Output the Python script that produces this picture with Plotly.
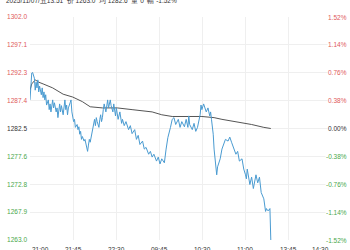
import plotly.graph_objects as go

# ---- data ----
minute_idx = [0,1,2,3,5,6,7,8,9,10,11,13,14,15,16,17,18,19,21,22,23,24,25,26,27,28,30,31,32,33,34,35,36,38,39,40,41,42,43,44,46,47,48,49,50,51,52,54,55,56,57,58,59,60,62,63,64,65,66,67,68,69,71,72,73,74,75,76,77,79,80,81,82,83,84,85,87,88,89,90,91,92,93,95,96,97,98,99,100,101,103,104,105,106,108,110,113,115,117,120,122,124,126,129,131,133,136,138,140,142,145,147,149,151,154,156,158,161,163,165,167,170,172,174,177,179,181,182,183,186,188,190,192,195,196,197,199,202,204,206,207,208,210,211,212,213,214,215,218,220,222,224,227,229,231,233,236,238,240,243,245,247,248,249,252,254,256,259,261,263,265,268,269,270,271,272,274,275,276]
price = [1287.5,1290.1,1292.2,1292.3,1291.3,1289.2,1290.6,1289.6,1291.0,1288.9,1289.9,1288.4,1289.6,1287.9,1288.9,1287.5,1288.4,1286.6,1287.5,1285.8,1286.8,1285.4,1286.5,1287.5,1286.1,1287.0,1285.4,1286.1,1284.4,1285.8,1286.8,1285.4,1286.5,1284.9,1286.8,1287.5,1285.8,1286.6,1284.9,1286.1,1287.0,1287.5,1285.4,1284.4,1283.7,1284.1,1282.7,1283.2,1282.3,1282.8,1281.5,1282.0,1280.6,1281.1,1280.3,1280.6,1279.7,1278.9,1278.5,1279.6,1280.6,1280.1,1281.5,1282.3,1283.2,1284.1,1283.0,1284.4,1283.7,1282.7,1284.1,1284.9,1283.7,1284.4,1285.8,1286.8,1285.4,1286.5,1287.5,1286.1,1287.0,1287.5,1286.5,1285.4,1286.8,1285.8,1284.7,1286.1,1285.1,1284.1,1285.4,1284.4,1283.4,1284.1,1283.0,1283.7,1282.3,1283.0,1281.6,1282.3,1280.6,1281.3,1279.7,1280.3,1278.9,1279.2,1278.0,1278.5,1277.5,1278.0,1276.8,1277.5,1276.3,1277.2,1276.5,1278.9,1280.9,1282.7,1284.1,1284.4,1283.2,1284.1,1282.7,1283.7,1282.8,1284.1,1282.7,1284.7,1283.2,1282.3,1283.4,1282.0,1282.7,1284.9,1286.6,1285.8,1286.8,1285.4,1286.1,1284.7,1285.4,1284.1,1281.5,1278.9,1277.2,1275.4,1274.4,1275.8,1277.2,1278.9,1279.7,1280.6,1280.3,1281.0,1280.1,1279.2,1278.0,1278.5,1276.8,1277.2,1275.4,1274.4,1273.7,1275.4,1272.7,1274.0,1272.0,1274.4,1273.0,1274.0,1271.3,1270.2,1268.5,1268.0,1268.5,1268.2,1268.2,1268.5,1263.0]

avg_idx = [0,2,6,10,15,26,38,49,60,69,83,100,117,140,151,163,197,211,220,243,254,268,276]
avg_price = [1289.2,1290.3,1291.0,1290.6,1290.3,1289.6,1288.5,1288.0,1287.2,1286.3,1286.1,1286.1,1285.8,1285.4,1284.9,1284.6,1284.6,1284.4,1284.1,1283.5,1283.2,1282.7,1282.5]

prev_close = 1282.5
price_ticks = [1263.0, 1267.875, 1272.75, 1277.625, 1282.5, 1287.375, 1292.25, 1297.125, 1302.0]
price_labels = ["1263.0", "1267.9", "1272.8", "1277.6", "1282.5", "1287.4", "1292.3", "1297.1", "1302.0"]
pct_labels = ["-1.52%", "-1.14%", "-0.76%", "-0.38%", "0.00%", "0.38%", "0.76%", "1.14%", "1.52%"]
time_labels = ["21:00", "21:45", "22:30", "09:45", "10:30", "11:00", "13:45", "14:30"]
session_minutes = 345
header = "2025/11/07/五13:51  价 1263.0  均 1282.6  量 0  幅 -1.52%"

RED = "#e05a5a"
GREEN = "#4aa84a"
DARK = "#333333"

def col(v):
    if v > prev_close + 1e-9:
        return RED
    if v < prev_close - 1e-9:
        return GREEN
    return DARK

fig = go.Figure()
fig.add_trace(go.Scatter(x=avg_idx, y=avg_price, mode="lines",
                         line=dict(color="#555555", width=1), hoverinfo="skip"))
fig.add_trace(go.Scatter(x=minute_idx, y=price, mode="lines",
                         line=dict(color="#4a9bd1", width=1), hoverinfo="skip"))

# previous close dashed line
fig.add_shape(type="line", xref="paper", yref="y", x0=0, x1=1, y0=prev_close, y1=prev_close,
              line=dict(color="#c8c8c8", width=1, dash="dash"), layer="below")

n_div = len(time_labels) - 1
grid_vals = [i * session_minutes / n_div for i in range(n_div + 1)]

ticktext = [f'<span style="color:{col(v)}">{t}</span>' for v, t in zip(price_ticks, price_labels)]

FONT = "Liberation Sans, Arial, sans-serif"
fig.update_layout(
    width=350, height=250,
    margin=dict(l=28, r=19, t=17, b=7),
    paper_bgcolor="white", plot_bgcolor="white",
    showlegend=False,
    font=dict(family=FONT, size=6.5, color=DARK),
    xaxis=dict(range=[0, session_minutes], tickvals=grid_vals, showticklabels=False,
               showgrid=True, gridcolor="#efefef", gridwidth=1, zeroline=False,
               showline=False, ticks="", fixedrange=True),
    yaxis=dict(range=[price_ticks[0], price_ticks[-1]], tickvals=price_ticks, ticktext=ticktext,
               showgrid=True, gridcolor="#efefef", gridwidth=1, zeroline=False,
               showline=False, ticks="", ticklabelstandoff=2, fixedrange=True,
               tickfont=dict(size=6.5)),
)

# right-hand percentage labels
for v, t in zip(price_ticks, pct_labels):
    fig.add_annotation(x=1.056, xref="paper", y=v, yref="y", text=t, showarrow=False,
                       xanchor="right", yanchor="middle", bgcolor="white", borderpad=0,
                       font=dict(size=6.5, color=col(v)))

# time labels (bottom, partly cut as in reference)
for i, (gv, t) in enumerate(zip(grid_vals, time_labels)):
    anchor = "left" if i == 0 else ("right" if i == n_div else "center")
    fig.add_annotation(x=gv, xref="x", y=-0.02, yref="paper", text=t, showarrow=False,
                       xanchor=anchor, yanchor="top", font=dict(size=6.5, color=DARK))

# header line (top, partly cut as in reference)
fig.add_annotation(x=-0.088, xref="paper", y=1.075, yref="paper", text=header, showarrow=False,
                   xanchor="left", yanchor="middle", font=dict(size=6.5, color=DARK))

fig.write_html("out.html")
